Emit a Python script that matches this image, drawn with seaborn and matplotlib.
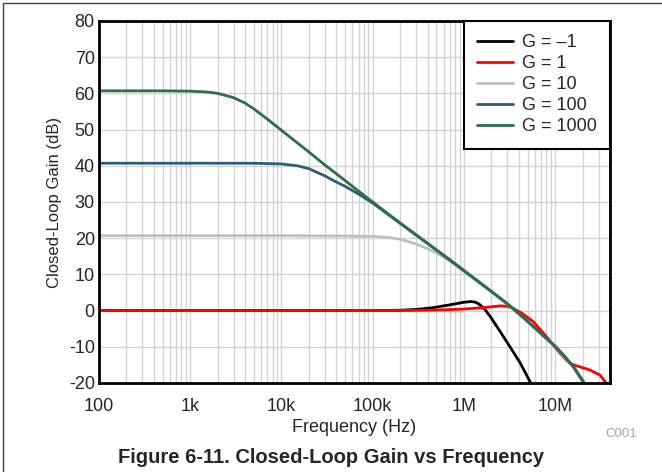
import matplotlib
matplotlib.use('Agg')
import matplotlib.pyplot as plt
from matplotlib.lines import Line2D
from matplotlib.ticker import FixedLocator, FixedFormatter, LogLocator, NullFormatter
import seaborn as sns
import pandas as pd

# Значения (частота в Гц, усиление в дБ)
freq_g_inv = [100, 1e4, 1e5, 2e5, 3e5, 4.57e5, 7.08e5, 1e6, 1.2e6, 1.35e6, 1.5e6,
              1.7e6, 1.94e6, 2.5e6, 3.2e6, 4.15e6, 5.3e6, 5.6e6]
gain_g_inv = [0, 0, 0, 0.1, 0.3, 0.8, 1.6, 2.3, 2.5, 2.3, 1.6,
              0.3, -1.6, -5.8, -10.0, -14.5, -19.6, -21.0]

freq_g1 = [100, 1e4, 1e5, 3e5, 5e5, 9.75e5, 1.6e6, 2.5e6, 2.96e6, 3.4e6, 4.3e6,
           5.8e6, 8.1e6, 11.2e6, 14.3e6, 17.4e6, 24e6, 31e6, 35.5e6, 38e6]
gain_g1 = [0, 0, 0, 0.05, 0.15, 0.4, 0.8, 1.3, 1.2, 0.7, -0.7,
           -3.1, -7.3, -11.7, -14.5, -15.3, -16.4, -17.8, -19.7, -21.0]

freq_g10 = [100, 1e4, 5e4, 1e5, 1.5e5, 2e5, 3e5, 4e5, 5e5, 7.08e5, 1e6, 1.5e6,
            2e6, 2.96e6, 5e6, 10e6, 15.9e6, 21.5e6]
gain_g10 = [20.7, 20.7, 20.6, 20.5, 20.2, 19.7, 18.4, 17.1, 15.9, 13.7, 10.9, 7.6,
            5.2, 1.9, -3.1, -10.0, -15.7, -21.0]

freq_g100 = [100, 1e3, 5e3, 1e4, 1.5e4, 2e4, 3e4, 4e4, 5e4, 7e4, 1e5, 2e5,
             5e5, 1e6, 2e6, 2.96e6, 5e6, 8e6, 10e6, 12.5e6, 15.9e6, 20.4e6, 21.5e6]
gain_g100 = [40.7, 40.7, 40.7, 40.5, 40.0, 39.2, 37.2, 35.5, 34.3, 32.2, 29.7, 24.1,
             16.7, 11.0, 5.3, 2.0, -2.9, -7.6, -9.8, -12.4, -15.5, -19.6, -21.0]

freq_g1000 = [100, 500, 1e3, 1.5e3, 2e3, 3e3, 4e3, 5e3, 7e3, 1e4, 1.5e4, 2e4,
              3e4, 5e4, 7e4, 1e5, 2e5, 5e5, 7.08e5, 1e6, 1.5e6, 2e6, 2.96e6,
              4e6, 5e6, 6e6, 8e6, 10e6, 12.5e6, 15.9e6, 18e6, 20.4e6, 21.5e6]
gain_g1000 = [60.7, 60.7, 60.6, 60.4, 60.0, 58.8, 57.3, 55.7, 52.9, 49.8, 46.3, 43.8,
              40.2, 35.9, 33.0, 30.0, 24.2, 16.8, 14.0, 11.1, 7.7, 5.3, 2.0,
              -0.8, -3.0, -4.8, -7.7, -9.9, -12.5, -15.6, -17.6, -19.7, -21.0]

series_names = ['G = \u20131', 'G = 1', 'G = 10', 'G = 100', 'G = 1000']
series_colors = ['#000000', '#FF0000', '#BEBEBE', '#2E5C78', '#2E6E4C']

x_ticks = [1e2, 1e3, 1e4, 1e5, 1e6, 1e7]
x_tick_labels = ['100', '1k', '10k', '100k', '1M', '10M']
y_ticks = [-20, -10, 0, 10, 20, 30, 40, 50, 60, 70, 80]

# Сборка таблицы для seaborn
frames = []
for name, f, g in zip(series_names,
                      [freq_g_inv, freq_g1, freq_g10, freq_g100, freq_g1000],
                      [gain_g_inv, gain_g1, gain_g10, gain_g100, gain_g1000]):
    frames.append(pd.DataFrame({'freq': f, 'gain': g, 'series': name}))
df = pd.concat(frames, ignore_index=True)

sns.set_style('white')
plt.rcParams['font.family'] = ['Liberation Sans', 'DejaVu Sans']
plt.rcParams['axes.unicode_minus'] = False

fig = plt.figure(figsize=(6.62, 4.72), dpi=100)
ax = fig.add_axes([0.1495, 0.1886, 0.772, 0.767])

sns.lineplot(data=df, x='freq', y='gain', hue='series',
             hue_order=series_names, palette=series_colors,
             estimator=None, sort=True, linewidth=2, ax=ax, legend=False)

ax.set_xscale('log')
ax.set_xlim(100, 4e7)
ax.set_ylim(-20, 80)

ax.xaxis.set_major_locator(FixedLocator(x_ticks))
ax.xaxis.set_major_formatter(FixedFormatter(x_tick_labels))
ax.xaxis.set_minor_locator(LogLocator(base=10, subs=range(2, 10), numticks=20))
ax.xaxis.set_minor_formatter(NullFormatter())
ax.set_yticks(y_ticks)

ax.grid(True, which='both', axis='x', color='#D3D3D3', linewidth=1)
ax.grid(True, which='major', axis='y', color='#D3D3D3', linewidth=1)
ax.set_axisbelow(True)
ax.tick_params(axis='both', which='both', length=0, labelsize=13)
ax.tick_params(axis='x', pad=11)
ax.tick_params(axis='y', pad=3)

for spine in ax.spines.values():
    spine.set_linewidth(2)
    spine.set_color('black')

ax.set_xlabel('Frequency (Hz)', fontsize=13, labelpad=3)
ax.set_ylabel('Closed-Loop Gain (dB)', fontsize=12, labelpad=5)

handles = [Line2D([0], [0], color=c, lw=2) for c in series_colors]
leg = ax.legend(handles, series_names, loc='upper right', fontsize=13,
                frameon=True, fancybox=False, borderaxespad=0,
                handlelength=2.0, handletextpad=0.45, labelspacing=0.22,
                borderpad=0.75)
leg.get_frame().set_edgecolor('black')
leg.get_frame().set_linewidth(1.5)
leg.get_frame().set_alpha(1)

fig.text(0.938, 0.08, 'C001', fontsize=9.5, color='#A6A6A6', ha='center', va='center')
fig.text(0.5, 0.03, 'Figure 6-11. Closed-Loop Gain vs Frequency',
         fontsize=14.5, fontweight='bold', ha='center', va='center')

# Рамка листа слева и сверху
fig.add_artist(Line2D([0.005, 0.005], [0, 0.994], color='#404040', lw=1))
fig.add_artist(Line2D([0.005, 1], [0.994, 0.994], color='#404040', lw=1))

fig.savefig('out.png', dpi=100)
plt.close(fig)
